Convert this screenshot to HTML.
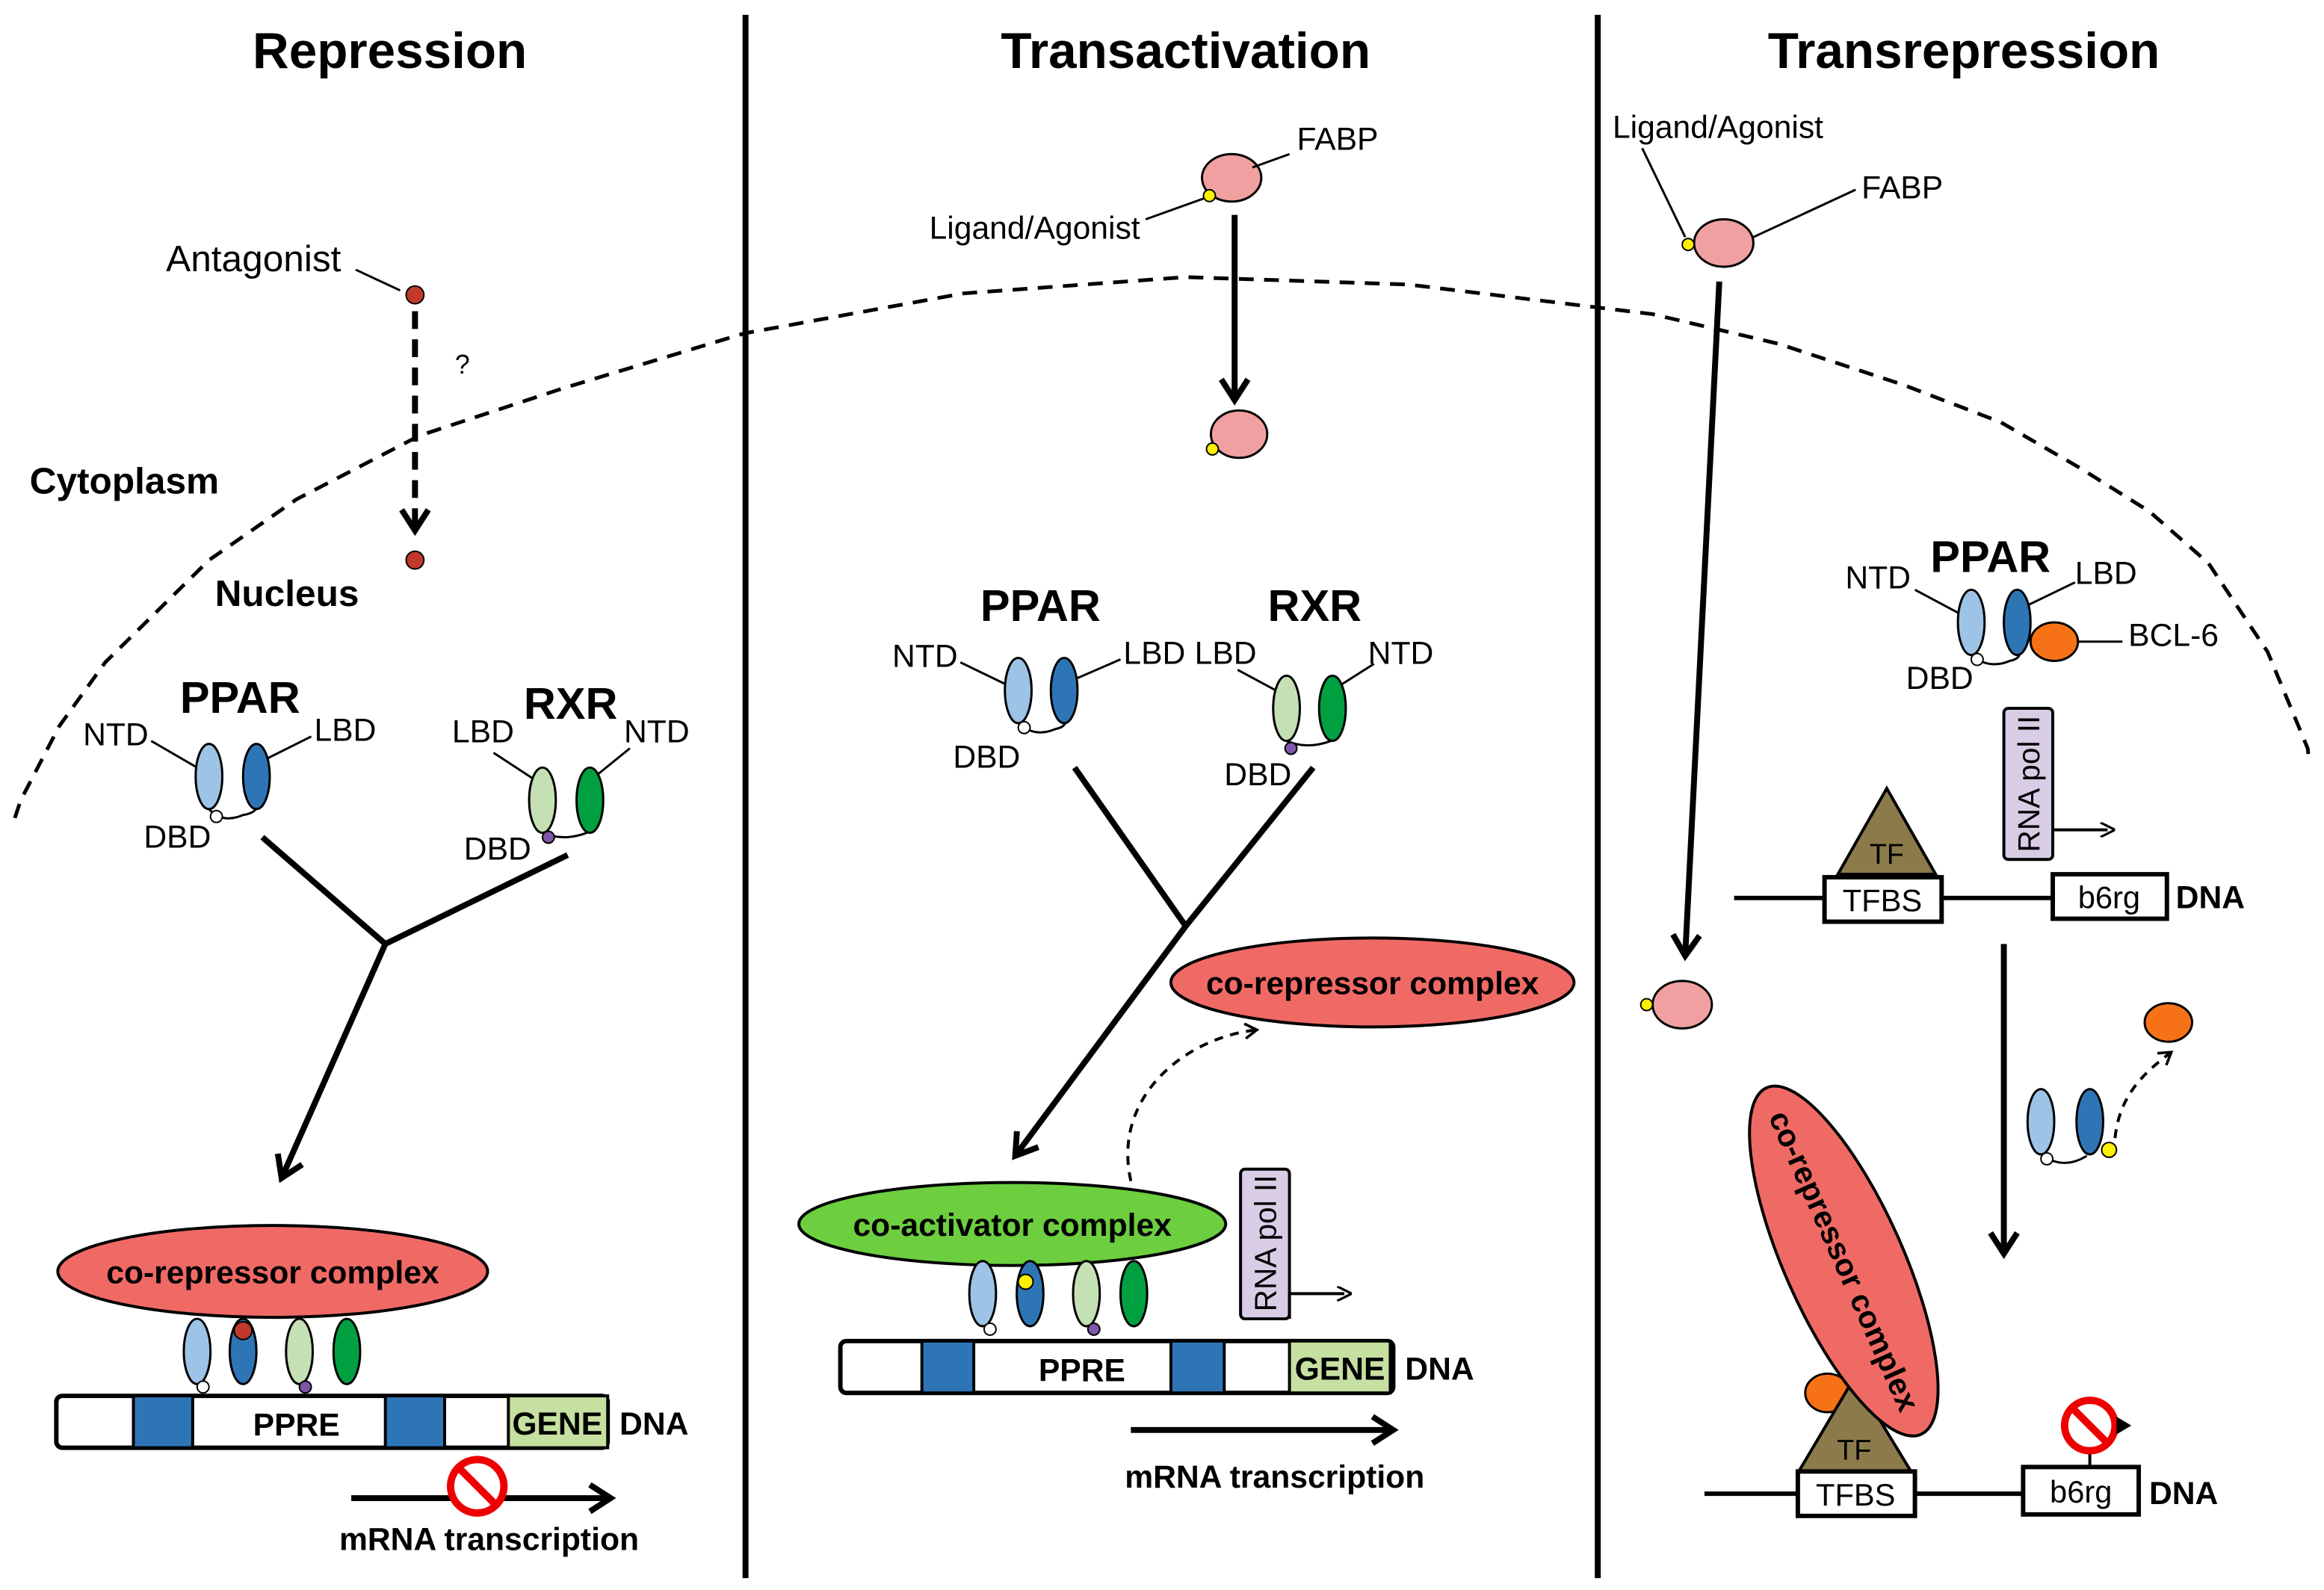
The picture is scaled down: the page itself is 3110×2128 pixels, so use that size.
<!DOCTYPE html>
<html><head><meta charset="utf-8"><style>
html,body{margin:0;padding:0;background:#fff}
svg{display:block}
text{font-family:"Liberation Sans",Arial,sans-serif;fill:#000}
.b{font-weight:bold}
</style></head><body>
<svg width="3110" height="2128" viewBox="0 0 1568 1073" preserveAspectRatio="none" xmlns="http://www.w3.org/2000/svg">
<defs>
<marker id="ah" markerWidth="10" markerHeight="10" refX="5" refY="5" orient="auto" markerUnits="userSpaceOnUse" viewBox="0 0 10 10"><path d="M0,0 L10,5 L0,10" fill="none" stroke="#000" stroke-width="1.6"/></marker>
<marker id="ab" markerWidth="22" markerHeight="22" refX="18" refY="11" orient="auto" markerUnits="userSpaceOnUse"><path d="M4,2 L18,11 L4,20" fill="none" stroke="#000" stroke-width="4"/></marker>
<marker id="as" markerWidth="12" markerHeight="12" refX="10" refY="6" orient="auto" markerUnits="userSpaceOnUse"><path d="M2,1 L10,6 L2,11" fill="none" stroke="#000" stroke-width="1.8"/></marker>
</defs>
<rect width="1568" height="1073" fill="#fff"/>
<line x1="503" y1="10" x2="503" y2="1065" stroke="#000" stroke-width="4"/>
<line x1="1078" y1="10" x2="1078" y2="1065" stroke="#000" stroke-width="4"/>
<text x="263" y="46" font-size="34" class="b" text-anchor="middle">Repression</text>
<text x="800" y="46" font-size="34" class="b" text-anchor="middle">Transactivation</text>
<text x="1325" y="46" font-size="34" class="b" text-anchor="middle">Transrepression</text>
<polyline points="10,552 14,540 40,490 71,447 141,378 200,337 283,294 380,262 502,225 650,198 800,187 950,192 1115,212 1200,232 1285,260 1350,285 1402,315 1450,345 1490,380 1530,440 1557,505 1558,515" fill="none" stroke="#000" stroke-width="2.5" stroke-dasharray="10,7" stroke-linejoin="round"/>
<text x="20" y="333" font-size="25" class="b">Cytoplasm</text>
<text x="145" y="409" font-size="25" class="b">Nucleus</text>

<!-- Repression -->
<text x="112" y="183" font-size="25">Antagonist</text>
<line x1="240" y1="182" x2="270" y2="196" stroke="#000" stroke-width="1.5"/>
<circle cx="280" cy="199" r="6" fill="#c0392b" stroke="#000" stroke-width="1"/>
<line x1="280" y1="210" x2="280" y2="358" stroke="#000" stroke-width="4" stroke-dasharray="12,7" marker-end="url(#ab)"/>
<text x="307" y="252" font-size="18">?</text>
<circle cx="280" cy="378" r="6" fill="#c0392b" stroke="#000" stroke-width="1"/>
<text x="162" y="481" font-size="30" class="b" text-anchor="middle">PPAR</text>
<text x="56" y="503" font-size="21.5">NTD</text>
<text x="212" y="500" font-size="21.5">LBD</text>
<text x="97" y="572" font-size="21.5">DBD</text>
<line x1="102" y1="500" x2="133" y2="518" stroke="#000" stroke-width="1.5"/>
<line x1="210" y1="497" x2="180" y2="512" stroke="#000" stroke-width="1.5"/>
<path d="M141,546 Q150,556 164,550 Q176,548 173,540" fill="none" stroke="#000" stroke-width="1.5"/>
<ellipse cx="141" cy="524" rx="9" ry="22" fill="#9dc3e6" stroke="#000" stroke-width="1.5"/>
<ellipse cx="173" cy="524" rx="9" ry="22" fill="#2e75b6" stroke="#000" stroke-width="1.5"/>
<circle cx="146" cy="551" r="4" fill="#fff" stroke="#000"/>
<text x="385" y="485" font-size="30" class="b" text-anchor="middle">RXR</text>
<text x="305" y="501" font-size="21.5">LBD</text>
<text x="421" y="501" font-size="21.5">NTD</text>
<text x="313" y="580" font-size="21.5">DBD</text>
<line x1="333" y1="508" x2="359" y2="525" stroke="#000" stroke-width="1.5"/>
<line x1="425" y1="505" x2="404" y2="522" stroke="#000" stroke-width="1.5"/>
<path d="M366,562 Q380,568 396,562" fill="none" stroke="#000" stroke-width="1.5"/>
<ellipse cx="366" cy="540" rx="9" ry="22" fill="#c5e0b4" stroke="#000" stroke-width="1.5"/>
<ellipse cx="398" cy="540" rx="9" ry="22" fill="#00a040" stroke="#000" stroke-width="1.5"/>
<circle cx="370" cy="565" r="4" fill="#7e57a6" stroke="#000"/>
<path d="M177,565 L260,637 L383,577 M260,637 L190,795" fill="none" stroke="#000" stroke-width="4" marker-end="url(#ab)"/>
<ellipse cx="184" cy="858" rx="145" ry="31" fill="#f06a65" stroke="#000" stroke-width="2"/>
<text x="184" y="866" font-size="21.5" class="b" text-anchor="middle">co-repressor complex</text>
<ellipse cx="133" cy="912" rx="9" ry="22" fill="#9dc3e6" stroke="#000" stroke-width="1.5"/>
<ellipse cx="164" cy="912" rx="9" ry="22" fill="#2e75b6" stroke="#000" stroke-width="1.5"/>
<ellipse cx="202" cy="912" rx="9" ry="22" fill="#c5e0b4" stroke="#000" stroke-width="1.5"/>
<ellipse cx="234" cy="912" rx="9" ry="22" fill="#00a040" stroke="#000" stroke-width="1.5"/>
<circle cx="164" cy="898" r="6" fill="#c0392b" stroke="#000"/>
<circle cx="137" cy="936" r="4" fill="#fff" stroke="#000"/>
<circle cx="206" cy="936" r="4" fill="#7e57a6" stroke="#000"/>
<rect x="38" y="942" width="372" height="35" rx="4" fill="#fff" stroke="#000" stroke-width="3"/>
<rect x="90" y="942" width="40" height="35" fill="#2e75b6" stroke="#000" stroke-width="2"/>
<rect x="260" y="942" width="40" height="35" fill="#2e75b6" stroke="#000" stroke-width="2"/>
<rect x="343" y="942" width="67" height="35" fill="#c5e0a0" stroke="#000" stroke-width="2"/>
<text x="200" y="969" font-size="21.5" class="b" text-anchor="middle">PPRE</text>
<text x="376" y="968" font-size="21.5" class="b" text-anchor="middle">GENE</text>
<text x="418" y="968" font-size="21.5" class="b">DNA</text>
<line x1="237" y1="1011" x2="412" y2="1011" stroke="#000" stroke-width="4" marker-end="url(#ab)"/>
<circle cx="322" cy="1003" r="18" fill="#fff" stroke="#e00" stroke-width="5"/>
<line x1="310" y1="991" x2="334" y2="1015" stroke="#e00" stroke-width="5"/>
<text x="330" y="1046" font-size="21.5" class="b" text-anchor="middle">mRNA transcription</text>

<!-- Transactivation -->
<ellipse cx="831" cy="120" rx="20" ry="16" fill="#f0a0a0" stroke="#000" stroke-width="1.5"/>
<circle cx="816" cy="132" r="4" fill="#ffef00" stroke="#000"/>
<text x="875" y="101" font-size="21.5">FABP</text>
<line x1="870" y1="104" x2="845" y2="113" stroke="#000" stroke-width="1.5"/>
<text x="627" y="161" font-size="21.5">Ligand/Agonist</text>
<line x1="773" y1="148" x2="812" y2="134" stroke="#000" stroke-width="1.5"/>
<line x1="833" y1="145" x2="833" y2="270" stroke="#000" stroke-width="4" marker-end="url(#ab)"/>
<ellipse cx="836" cy="293" rx="19" ry="16" fill="#f0a0a0" stroke="#000" stroke-width="1.5"/>
<circle cx="818" cy="303" r="4" fill="#ffef00" stroke="#000"/>
<text x="702" y="419" font-size="30" class="b" text-anchor="middle">PPAR</text>
<text x="602" y="450" font-size="21.5">NTD</text>
<text x="758" y="448" font-size="21.5">LBD</text>
<text x="643" y="518" font-size="21.5">DBD</text>
<line x1="648" y1="447" x2="679" y2="462" stroke="#000" stroke-width="1.5"/>
<line x1="756" y1="445" x2="726" y2="458" stroke="#000" stroke-width="1.5"/>
<path d="M687,488 Q698,498 712,492 Q722,490 718,482" fill="none" stroke="#000" stroke-width="1.5"/>
<ellipse cx="687" cy="466" rx="9" ry="22" fill="#9dc3e6" stroke="#000" stroke-width="1.5"/>
<ellipse cx="718" cy="466" rx="9" ry="22" fill="#2e75b6" stroke="#000" stroke-width="1.5"/>
<circle cx="691" cy="491" r="4" fill="#fff" stroke="#000"/>
<text x="887" y="419" font-size="30" class="b" text-anchor="middle">RXR</text>
<text x="806" y="448" font-size="21.5">LBD</text>
<text x="923" y="448" font-size="21.5">NTD</text>
<text x="826" y="530" font-size="21.5">DBD</text>
<line x1="835" y1="452" x2="861" y2="466" stroke="#000" stroke-width="1.5"/>
<line x1="927" y1="448" x2="905" y2="462" stroke="#000" stroke-width="1.5"/>
<path d="M868,500 Q882,506 898,500" fill="none" stroke="#000" stroke-width="1.5"/>
<ellipse cx="868" cy="478" rx="9" ry="22" fill="#c5e0b4" stroke="#000" stroke-width="1.5"/>
<ellipse cx="899" cy="478" rx="9" ry="22" fill="#00a040" stroke="#000" stroke-width="1.5"/>
<circle cx="871" cy="505" r="4" fill="#7e57a6" stroke="#000"/>
<path d="M725,518 L800,625 L886,518 M800,625 L685,780" fill="none" stroke="#000" stroke-width="4" marker-end="url(#ab)"/>
<ellipse cx="926" cy="663" rx="136" ry="30" fill="#f06a65" stroke="#000" stroke-width="2"/>
<text x="926" y="671" font-size="21.5" class="b" text-anchor="middle">co-repressor complex</text>
<path d="M763,797 C750,740 800,700 848,695" fill="none" stroke="#000" stroke-width="2" stroke-dasharray="6,5" marker-end="url(#as)"/>
<ellipse cx="683" cy="826" rx="144" ry="28" fill="#6dce3f" stroke="#000" stroke-width="2"/>
<text x="683" y="834" font-size="21.5" class="b" text-anchor="middle">co-activator complex</text>
<ellipse cx="663" cy="873" rx="9" ry="22" fill="#9dc3e6" stroke="#000" stroke-width="1.5"/>
<ellipse cx="695" cy="873" rx="9" ry="22" fill="#2e75b6" stroke="#000" stroke-width="1.5"/>
<ellipse cx="733" cy="873" rx="9" ry="22" fill="#c5e0b4" stroke="#000" stroke-width="1.5"/>
<ellipse cx="765" cy="873" rx="9" ry="22" fill="#00a040" stroke="#000" stroke-width="1.5"/>
<circle cx="692" cy="865" r="5" fill="#ffef00" stroke="#000"/>
<circle cx="668" cy="897" r="4" fill="#fff" stroke="#000"/>
<circle cx="738" cy="897" r="4" fill="#7e57a6" stroke="#000"/>
<rect x="837" y="789" width="33" height="101" rx="3" fill="#d9cde6" stroke="#000" stroke-width="2"/>
<text transform="translate(861,839) rotate(-90)" font-size="20.5" text-anchor="middle">RNA pol II</text>
<path d="M870,890 L870,873 L907,873" fill="none" stroke="#000" stroke-width="2" marker-end="url(#ah)"/>
<rect x="567" y="905" width="373" height="35" rx="4" fill="#fff" stroke="#000" stroke-width="3"/>
<rect x="622" y="905" width="35" height="35" fill="#2e75b6" stroke="#000" stroke-width="2"/>
<rect x="790" y="905" width="36" height="35" fill="#2e75b6" stroke="#000" stroke-width="2"/>
<rect x="870" y="905" width="68" height="35" fill="#c5e0a0" stroke="#000" stroke-width="2"/>
<text x="730" y="932" font-size="21.5" class="b" text-anchor="middle">PPRE</text>
<text x="904" y="931" font-size="21.5" class="b" text-anchor="middle">GENE</text>
<text x="948" y="931" font-size="21.5" class="b">DNA</text>
<line x1="763" y1="965" x2="940" y2="965" stroke="#000" stroke-width="4" marker-end="url(#ab)"/>
<text x="860" y="1004" font-size="21.5" class="b" text-anchor="middle">mRNA transcription</text>

<!-- Transrepression -->
<text x="1088" y="93" font-size="21.5">Ligand/Agonist</text>
<line x1="1108" y1="100" x2="1137" y2="160" stroke="#000" stroke-width="1.5"/>
<ellipse cx="1163" cy="164" rx="20" ry="16" fill="#f0a0a0" stroke="#000" stroke-width="1.5"/>
<circle cx="1139" cy="165" r="4" fill="#ffef00" stroke="#000"/>
<text x="1256" y="134" font-size="21.5">FABP</text>
<line x1="1252" y1="128" x2="1183" y2="160" stroke="#000" stroke-width="1.5"/>
<line x1="1160" y1="190" x2="1137" y2="645" stroke="#000" stroke-width="4" marker-end="url(#ab)"/>
<ellipse cx="1135" cy="678" rx="20" ry="16" fill="#f0a0a0" stroke="#000" stroke-width="1.5"/>
<circle cx="1111" cy="678" r="4" fill="#ffef00" stroke="#000"/>
<text x="1343" y="386" font-size="30" class="b" text-anchor="middle">PPAR</text>
<text x="1245" y="397" font-size="21.5">NTD</text>
<text x="1400" y="394" font-size="21.5">LBD</text>
<text x="1286" y="465" font-size="21.5">DBD</text>
<line x1="1292" y1="398" x2="1322" y2="414" stroke="#000" stroke-width="1.5"/>
<line x1="1400" y1="393" x2="1369" y2="408" stroke="#000" stroke-width="1.5"/>
<path d="M1330,442 Q1342,452 1356,446 Q1366,444 1361,436" fill="none" stroke="#000" stroke-width="1.5"/>
<ellipse cx="1330" cy="420" rx="9" ry="22" fill="#9dc3e6" stroke="#000" stroke-width="1.5"/>
<ellipse cx="1361" cy="420" rx="9" ry="22" fill="#2e75b6" stroke="#000" stroke-width="1.5"/>
<circle cx="1334" cy="445" r="4" fill="#fff" stroke="#000"/>
<line x1="1402" y1="433" x2="1432" y2="433" stroke="#000" stroke-width="1.5"/>
<ellipse cx="1386" cy="433" rx="16" ry="13" fill="#f77216" stroke="#000" stroke-width="1.5"/>
<text x="1436" y="436" font-size="21.5">BCL-6</text>
<rect x="1352" y="478" width="33" height="102" rx="3" fill="#d9cde6" stroke="#000" stroke-width="2"/>
<text transform="translate(1376,529) rotate(-90)" font-size="20.5" text-anchor="middle">RNA pol II</text>
<line x1="1385" y1="560" x2="1422" y2="560" stroke="#000" stroke-width="2" marker-end="url(#ah)"/>
<line x1="1170" y1="606" x2="1385" y2="606" stroke="#000" stroke-width="3"/>
<polygon points="1240,590 1306,590 1273,532" fill="#8c7a4a" stroke="#000" stroke-width="2"/>
<text x="1273" y="583" font-size="19" text-anchor="middle">TF</text>
<rect x="1231" y="592" width="79" height="30" fill="#fff" stroke="#000" stroke-width="3"/>
<text x="1270" y="615" font-size="21" text-anchor="middle">TFBS</text>
<rect x="1385" y="590" width="77" height="30" fill="#fff" stroke="#000" stroke-width="3"/>
<text x="1423" y="613" font-size="21" text-anchor="middle">b6rg</text>
<text x="1468" y="613" font-size="21.5" class="b">DNA</text>
<line x1="1352" y1="637" x2="1352" y2="846" stroke="#000" stroke-width="4" marker-end="url(#ab)"/>
<ellipse cx="1463" cy="690" rx="16" ry="13" fill="#f77216" stroke="#000" stroke-width="1.5"/>
<path d="M1377,779 Q1392,790 1408,780" fill="none" stroke="#000" stroke-width="1.5"/>
<ellipse cx="1377" cy="757" rx="9" ry="22" fill="#9dc3e6" stroke="#000" stroke-width="1.5"/>
<ellipse cx="1410" cy="757" rx="9" ry="22" fill="#2e75b6" stroke="#000" stroke-width="1.5"/>
<circle cx="1381" cy="782" r="4" fill="#fff" stroke="#000"/>
<circle cx="1423" cy="776" r="5" fill="#ffef00" stroke="#000"/>
<path d="M1427,768 C1430,740 1445,725 1465,710" fill="none" stroke="#000" stroke-width="2" stroke-dasharray="6,5" marker-end="url(#as)"/>
<line x1="1150" y1="1008" x2="1365" y2="1008" stroke="#000" stroke-width="3"/>
<ellipse cx="1233" cy="940" rx="15" ry="13" fill="#f77216" stroke="#000" stroke-width="1.5"/>
<polygon points="1213,994 1290,994 1251,930" fill="#8c7a4a" stroke="#000" stroke-width="2"/>
<text x="1251" y="985" font-size="19" text-anchor="middle">TF</text>
<ellipse cx="0" cy="0" rx="40" ry="128" transform="translate(1244,851) rotate(-24)" fill="#f06a65" stroke="#000" stroke-width="2"/>
<text transform="translate(1244,851) rotate(66)" y="7" font-size="21" class="b" text-anchor="middle">co-repressor complex</text>
<rect x="1213" y="993" width="79" height="30" fill="#fff" stroke="#000" stroke-width="3"/>
<text x="1252" y="1016" font-size="21" text-anchor="middle">TFBS</text>
<rect x="1365" y="990" width="78" height="32" fill="#fff" stroke="#000" stroke-width="3"/>
<text x="1404" y="1014" font-size="21" text-anchor="middle">b6rg</text>
<text x="1450" y="1015" font-size="21.5" class="b">DNA</text>
<line x1="1410" y1="978" x2="1410" y2="990" stroke="#000" stroke-width="2"/>
<circle cx="1410" cy="962" r="17" fill="#fff" stroke="#e00" stroke-width="5"/>
<line x1="1398" y1="950" x2="1422" y2="974" stroke="#e00" stroke-width="5"/>
<path d="M1428,956 L1438,962 L1428,968 Z" fill="#000"/>
</svg>
</body></html>
